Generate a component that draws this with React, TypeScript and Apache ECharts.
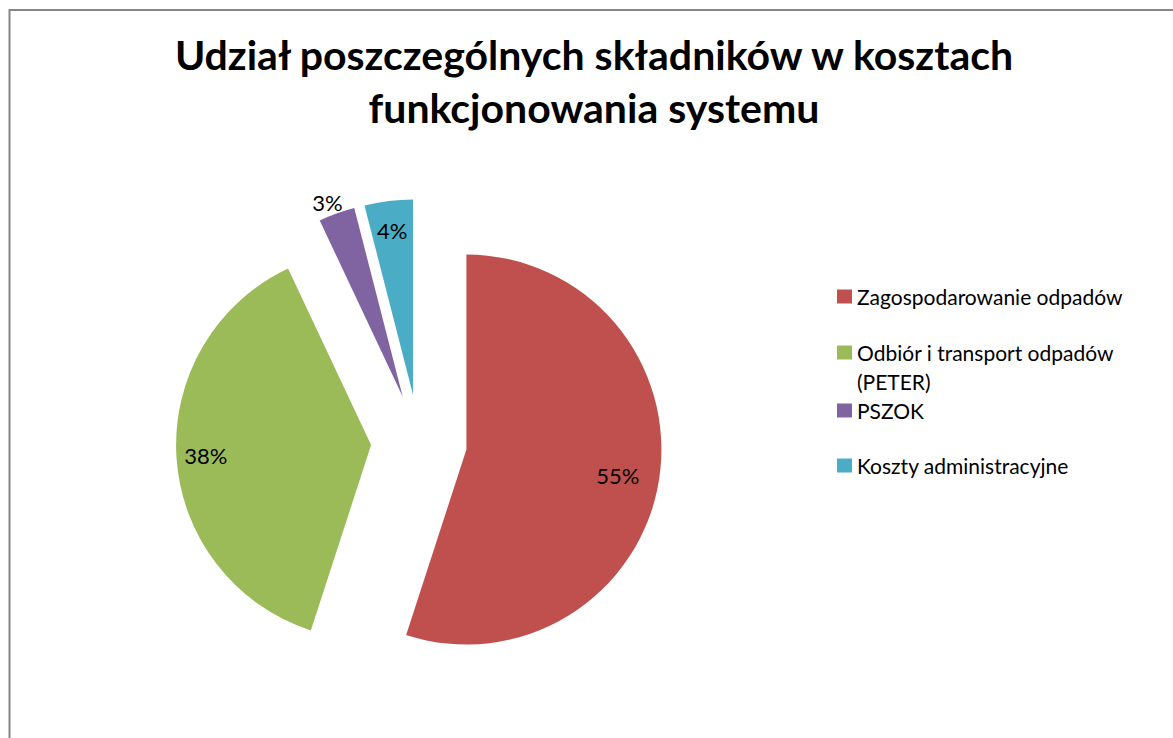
import React, { useEffect, useRef } from 'react';
import * as echarts from 'echarts';

const titleText = 'Udział poszczególnych składników w kosztach\nfunkcjonowania systemu';
const categories = [
  'Zagospodarowanie odpadów',
  'Odbiór i transport odpadów (PETER)',
  'PSZOK',
  'Koszty administracyjne',
];
const values = [55, 38, 3, 4];
const colors = ['#C0504D', '#9BBB59', '#8064A2', '#4BACC6'];

// layout constants
const legendTops = [282, 309, 396, 451];
const labelPaddings = [[0, 24, 0, 0], [0, 0, 0, 0], [0, 0, 0, 0], [0, 0, 0, 0]];
const labelVAligns = ['top', 'top', 'middle', 'middle'];
const pieCenter = [419, 442];
const pieRadius = 195;
const explode = 48;

export default function App() {
  const ref = useRef<HTMLDivElement>(null);
  useEffect(() => {
    if (!ref.current) return;
    const chart = echarts.init(ref.current, null, { renderer: 'svg' });
    const font = 'Lato';
    const legendLineHeight = 29;
    const option: any = {
      animation: false,
      backgroundColor: '#ffffff',
      title: {
        text: titleText,
        left: 594,
        top: 28,
        textAlign: 'center',
        padding: 0,
        textStyle: {
          fontFamily: font,
          fontWeight: 'bold',
          fontSize: 41,
          lineHeight: 53,
          color: '#000000',
        },
      },
      legend: categories.map((name, i) => ({
        show: true,
        orient: 'vertical',
        left: 837,
        top: legendTops[i],
        padding: 0,
        itemWidth: 15,
        itemHeight: 14,
        itemGap: 5,
        icon: 'rect',
        selectedMode: false,
        data: [name],
        formatter: (n: string) =>
          n.indexOf(' (PETER)') >= 0 ? '\u00a0\n' + n.replace(' (PETER)', '\n(PETER)') : n,
        textStyle: {
          fontFamily: font,
          fontSize: 21,
          lineHeight: legendLineHeight,
          color: '#000000',
        },
      })),
      graphic: [
        {
          type: 'rect',
          silent: true,
          shape: { x: 9.5, y: 10, width: 1400, height: 1000 },
          style: { fill: 'none', stroke: '#868686', lineWidth: 2 },
        },
      ],
      series: [
        {
          type: 'pie',
          center: pieCenter,
          radius: pieRadius,
          startAngle: 90,
          clockwise: true,
          selectedMode: 'multiple',
          selectedOffset: explode,
          avoidLabelOverlap: false,
          label: { show: false },
          labelLine: { show: false },
          emphasis: { disabled: true, scale: false },
          data: categories.map((name, i) => ({
            name,
            value: values[i],
            selected: true,
            itemStyle: { color: colors[i] },
            select: { itemStyle: { color: colors[i], borderWidth: 0 } },
          })),
        },
        {
          type: 'pie',
          center: pieCenter,
          radius: [130, pieRadius],
          startAngle: 90,
          clockwise: true,
          silent: true,
          legendHoverLink: false,
          selectedMode: 'multiple',
          selectedOffset: explode,
          avoidLabelOverlap: false,
          itemStyle: { color: 'rgba(0,0,0,0)' },
          emphasis: { disabled: true, scale: false },
          label: {
            show: true,
            position: 'inside',
            formatter: (p: any) => Math.round(p.percent) + '%',
            color: '#000000',
            fontFamily: font,
            fontSize: 22,
          },
          labelLine: { show: false },
          data: categories.map((name, i) => ({
            name,
            value: values[i],
            selected: true,
            itemStyle: { color: 'rgba(0,0,0,0)' },
            select: { itemStyle: { color: 'rgba(0,0,0,0)', borderWidth: 0 } },
            ...(i === 2
              ? {
                  label: { position: 'outside', distanceToLabelLine: -10 },
                  labelLine: { show: false, length: 12, length2: 0 },
                }
              : { label: { padding: labelPaddings[i], verticalAlign: labelVAligns[i] } }),
          })),
        },
      ],
    };
    chart.setOption(option);
    return () => chart.dispose();
  }, []);
  return (
    <div
      ref={ref}
      style={{ position: 'absolute', left: 0, top: 0, width: 1173, height: 738 }}
    />
  );
}
